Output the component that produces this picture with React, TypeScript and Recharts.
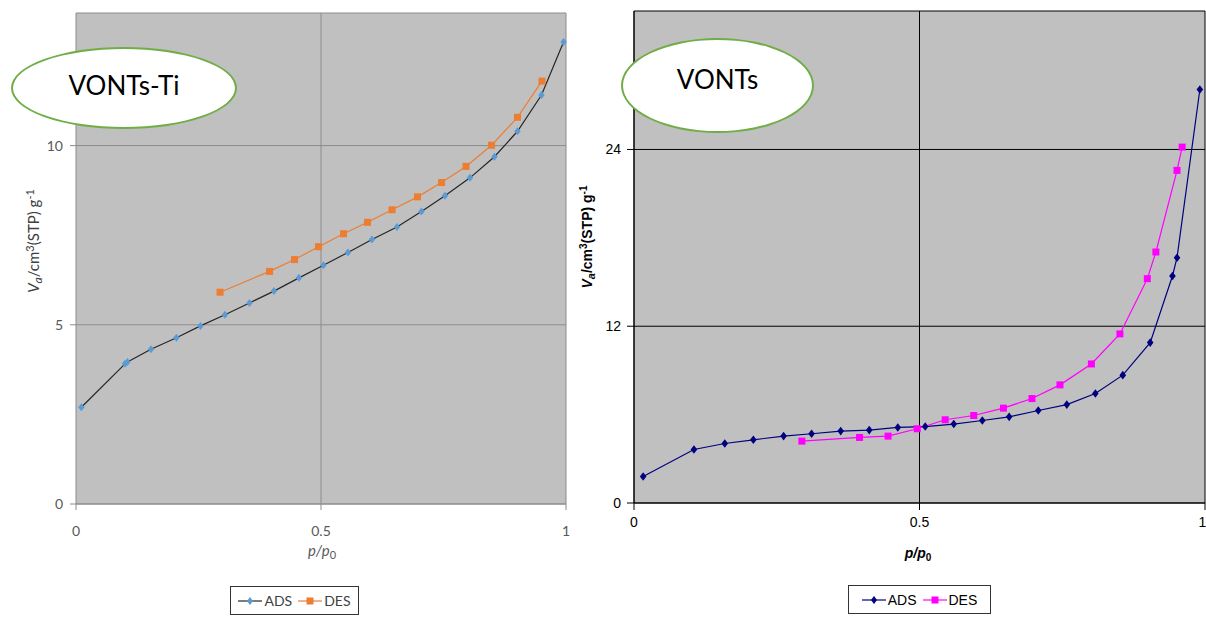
import { LineChart, Line, XAxis, YAxis, CartesianGrid } from "recharts";

// VONTs-Ti (left panel)
const tiAdsX = [0.011, 0.1, 0.105, 0.153, 0.205, 0.254, 0.304, 0.354, 0.404, 0.455, 0.505, 0.555, 0.604, 0.655, 0.705, 0.753, 0.804, 0.854, 0.901, 0.95, 0.995];
const tiAdsY = [2.7, 3.91, 3.96, 4.32, 4.64, 4.97, 5.28, 5.61, 5.94, 6.31, 6.66, 7.02, 7.38, 7.73, 8.16, 8.6, 9.1, 9.69, 10.4, 11.41, 12.89];
const tiDesX = [0.294, 0.395, 0.446, 0.495, 0.546, 0.595, 0.645, 0.697, 0.746, 0.796, 0.848, 0.901, 0.951];
const tiDesY = [5.91, 6.49, 6.82, 7.18, 7.54, 7.86, 8.21, 8.57, 8.97, 9.42, 10.01, 10.79, 11.8];

// VONTs (right panel)
const vAdsX = [0.016, 0.105, 0.159, 0.209, 0.262, 0.311, 0.362, 0.412, 0.462, 0.51, 0.56, 0.61, 0.657, 0.708, 0.758, 0.808, 0.856, 0.904, 0.943, 0.951, 0.991];
const vAdsY = [1.8, 3.63, 4.04, 4.29, 4.54, 4.7, 4.88, 4.95, 5.13, 5.19, 5.36, 5.6, 5.85, 6.28, 6.68, 7.43, 8.68, 10.89, 15.41, 16.65, 28.07];
const vDesX = [0.294, 0.395, 0.445, 0.496, 0.545, 0.595, 0.647, 0.697, 0.746, 0.801, 0.851, 0.899, 0.914, 0.951, 0.96];
const vDesY = [4.2, 4.45, 4.54, 5.04, 5.65, 5.94, 6.44, 7.09, 8.02, 9.44, 11.48, 15.23, 17.04, 22.58, 24.16];

const xTicks = [0, 0.5, 1];
const tiYTicks = [0, 5, 10];
const vYTicks = [0, 12, 24];
const seriesNames = ["ADS", "DES"];

const zip = (xs: number[], ys: number[]) => xs.map((x, i) => ({ x, y: ys[i] }));

const tiAds = zip(tiAdsX, tiAdsY);
const tiDes = zip(tiDesX, tiDesY);
const vAds = zip(vAdsX, vAdsY);
const vDes = zip(vDesX, vDesY);

const CALIBRI = "Lato, 'Open Sans', sans-serif";
const ARIAL = "'Liberation Sans Narrow', 'Liberation Sans', Arial, sans-serif";

const diamond = (color: string, w: number, h: number) => (p: any) => (
  <polygon
    key={`d-${p.index}`}
    points={`${p.cx},${p.cy - h} ${p.cx + w},${p.cy} ${p.cx},${p.cy + h} ${p.cx - w},${p.cy}`}
    fill={color}
  />
);

const square = (color: string, s: number) => (p: any) => (
  <rect key={`s-${p.index}`} x={p.cx - s / 2} y={p.cy - s / 2} width={s} height={s} fill={color} />
);

const YLabel = ({ x, y, bold, font, color, size }: any) => (
  <text
    x={x}
    y={y}
    transform={`rotate(-90 ${x} ${y})`}
    textAnchor="middle"
    fontFamily={font}
    fontSize={size}
    fontWeight={bold ? 700 : 400}
    fill={color}
  >
    <tspan fontStyle="italic">V</tspan>
    <tspan fontStyle="italic" fontSize={size - 3} dy={3}>a</tspan>
    <tspan dy={-3}>/cm</tspan>
    <tspan fontSize={size - 4} dy={-5}>3</tspan>
    <tspan dy={5}>(STP) g</tspan>
    <tspan fontSize={size - 4} dy={-5}>-1</tspan>
  </text>
);

const XLabel = ({ x, y, bold, font, color, size }: any) => (
  <text x={x} y={y} textAnchor="middle" fontFamily={font} fontSize={size} fontWeight={bold ? 700 : 400} fill={color} fontStyle="italic">
    <tspan>p/p</tspan>
    <tspan fontSize={size - 4} dy={3} fontStyle="normal">0</tspan>
  </text>
);

const LegendBox = ({ left, top, width, font, color, items }: any) => (
  <div
    style={{
      position: "absolute",
      left,
      top,
      width,
      height: 29,
      border: "1px solid #333",
      background: "#fff",
      display: "flex",
      alignItems: "center",
      justifyContent: "center",
      gap: 6,
      fontFamily: font,
      fontSize: 14,
      color,
      boxSizing: "border-box",
    }}
  >
    {items.map((it: any) => (
      <span key={it.name} style={{ display: "flex", alignItems: "center" }}>
        <svg width={24} height={12}>
          <line x1={0} y1={6} x2={24} y2={6} stroke={it.line} strokeWidth={1.2} />
          {it.shape === "diamond" ? (
            <polygon points="12,2 15,6 12,10 9,6" fill={it.marker} />
          ) : (
            <rect x={8.5} y={2.5} width={7} height={7} fill={it.marker} />
          )}
        </svg>
        <span style={{ marginLeft: 2 }}>{it.name}</span>
      </span>
    ))}
  </div>
);

const Ellipse = ({ left, top, width, height, text, padBottom }: any) => (
  <div
    style={{
      position: "absolute",
      left,
      top,
      width,
      height,
      borderRadius: "50%",
      border: "2.5px solid #70AD47",
      background: "#fff",
      boxSizing: "border-box",
      display: "flex",
      alignItems: "center",
      justifyContent: "center",
      paddingBottom: padBottom,
      fontFamily: CALIBRI,
      fontSize: 26,
      color: "#000",
      zIndex: 2,
    }}
  >
    {text}
  </div>
);

export default function App() {
  return (
    <div style={{ position: "fixed", left: 0, top: 0, width: 1206, height: 618, background: "#fff", overflow: "hidden" }}>
      <div style={{ position: "absolute", left: 0, top: 0 }}>
        <LineChart width={600} height={618} margin={{ top: 13, right: 34, left: 0, bottom: 0 }}>
          <CartesianGrid stroke="#8c8c8c" fill="#C0C0C0" />
          <XAxis
            type="number"
            dataKey="x"
            domain={[0, 1]}
            ticks={xTicks}
            height={114}
            tickSize={6}
            tickMargin={16}
            stroke="#8c8c8c"
            tick={{ fill: "#595959", fontFamily: CALIBRI, fontSize: 14 }}
            label={{ content: () => <XLabel x={322} y={556} size={15} font={CALIBRI} color="#595959" /> }}
          />
          <YAxis
            type="number"
            dataKey="y"
            domain={[0, 13.7]}
            ticks={tiYTicks}
            width={76}
            tickSize={6}
            tickMargin={7}
            axisLine={false}
            tickLine={{ stroke: "#8c8c8c" }}
            tick={{ fill: "#595959", fontFamily: CALIBRI, fontSize: 14 }}
            label={{ content: () => <YLabel x={39} y={241} size={15} font={CALIBRI} color="#404040" /> }}
          />
          <Line
            data={tiAds}
            dataKey="y"
            type="linear"
            stroke="#262626"
            strokeWidth={1.2}
            dot={diamond("#5B9BD5", 3.2, 4)}
            isAnimationActive={false}
          />
          <Line
            data={tiDes}
            dataKey="y"
            type="linear"
            stroke="#ED7D31"
            strokeWidth={1.2}
            dot={square("#ED7D31", 7)}
            isAnimationActive={false}
          />
        </LineChart>
      </div>

      <div style={{ position: "absolute", left: 570, top: 0 }}>
        <LineChart width={636} height={618} margin={{ top: 11, right: 1, left: 30, bottom: 0 }}>
          <CartesianGrid stroke="#000" fill="#C0C0C0" />
          <XAxis
            type="number"
            dataKey="x"
            domain={[0, 1]}
            ticks={xTicks}
            height={115}
            tickSize={7}
            tickMargin={7}
            stroke="#000"
            tick={{ fill: "#000", fontFamily: ARIAL, fontSize: 14 }}
            label={{ content: () => <XLabel x={348} y={558} size={14} bold font={ARIAL} color="#000" /> }}
          />
          <YAxis
            type="number"
            dataKey="y"
            domain={[0, 33.4]}
            ticks={vYTicks}
            width={34}
            tickSize={7}
            tickMargin={6}
            stroke="#000"
            tick={{ fill: "#000", fontFamily: ARIAL, fontSize: 14 }}
            label={{ content: () => <YLabel x={22} y={237} size={14} bold font={ARIAL} color="#000" /> }}
          />
          <Line
            data={vAds}
            dataKey="y"
            type="linear"
            stroke="#000080"
            strokeWidth={1.2}
            dot={diamond("#000080", 3.3, 4.3)}
            isAnimationActive={false}
          />
          <Line
            data={vDes}
            dataKey="y"
            type="linear"
            stroke="#FF00FF"
            strokeWidth={1.2}
            dot={square("#FF00FF", 7)}
            isAnimationActive={false}
          />
        </LineChart>
      </div>

      <Ellipse left={11} top={47} width={226} height={82} text="VONTs-Ti" padBottom={6} />
      <Ellipse left={621} top={38} width={193} height={95} text="VONTs" padBottom={14} />

      <LegendBox
        left={230}
        top={586}
        width={129}
        font={CALIBRI}
        color="#404040"
        items={[
          { name: seriesNames[0], line: "#262626", marker: "#5B9BD5", shape: "diamond" },
          { name: seriesNames[1], line: "#ED7D31", marker: "#ED7D31", shape: "square" },
        ]}
      />
      <LegendBox
        left={848}
        top={585}
        width={143}
        font={ARIAL}
        color="#000"
        items={[
          { name: seriesNames[0], line: "#000080", marker: "#000080", shape: "diamond" },
          { name: seriesNames[1], line: "#FF00FF", marker: "#FF00FF", shape: "square" },
        ]}
      />
    </div>
  );
}
